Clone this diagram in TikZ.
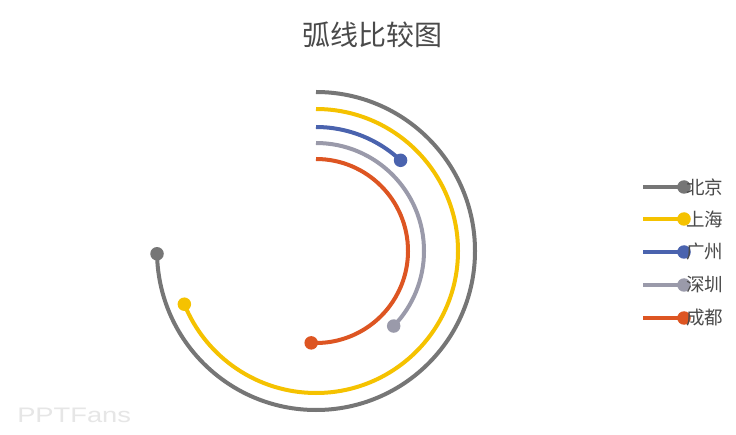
\documentclass[tikz,border=0pt]{standalone}
\usepackage{fontspec}
\usepackage{xcolor}
\usepackage{tikz}
\usetikzlibrary{positioning, calc}
\newfontfamily\cjk{Noto Sans CJK SC}
\setsansfont{Liberation Sans}
\definecolor{bjGray}{HTML}{767676}
\definecolor{shYellow}{HTML}{F5C200}
\definecolor{gzBlue}{HTML}{4A63AE}
\definecolor{szGray}{HTML}{9A9AAA}
\definecolor{cdOrange}{HTML}{DD5522}
\definecolor{titleGray}{HTML}{4A4A4A}
\definecolor{markGray}{HTML}{E6E6E6}
\begin{document}
\begin{tikzpicture}[
        x=1pt, y=1pt,
        arcline/.style={line width=4pt},
        enddot/.style={circle, inner sep=0pt, minimum size=13.5pt},
        legendtext/.style={anchor=west, inner sep=0pt, text=titleGray, font=\cjk\fontsize{18.5}{18.5}\selectfont},
        legendline/.style={line width=4pt}
    ]
        \useasboundingbox[fill=white] (0,0) rectangle (736,434);

        % ===== 标题 =====
        \node (title) [text=titleGray, font=\cjk\fontsize{28}{28}\selectfont] at (372,399) {弧线比较图};

        % ===== 弧线 =====
        \coordinate (center) at (316,183);
        \draw [arcline, bjGray] ($(center)+(90:159)$) arc[start angle=90, end angle=-179, radius=159] coordinate (bjEnd);
        \draw [arcline, shYellow] ($(center)+(90:142)$) arc[start angle=90, end angle=-158, radius=142] coordinate (shEnd);
        \draw [arcline, gzBlue] ($(center)+(90:124)$) arc[start angle=90, end angle=47, radius=124] coordinate (gzEnd);
        \draw [arcline, szGray] ($(center)+(90:108)$) arc[start angle=90, end angle=-44, radius=108] coordinate (szEnd);
        \draw [arcline, cdOrange] ($(center)+(90:92)$) arc[start angle=90, end angle=-93, radius=92] coordinate (cdEnd);

        \node (bjDot) [enddot, fill=bjGray] at (bjEnd) {};
        \node (shDot) [enddot, fill=shYellow] at (shEnd) {};
        \node (gzDot) [enddot, fill=gzBlue] at (gzEnd) {};
        \node (szDot) [enddot, fill=szGray] at (szEnd) {};
        \node (cdDot) [enddot, fill=cdOrange] at (cdEnd) {};

        % ===== 图例 =====
        \node (bjKey) [enddot, fill=bjGray] at (684,247) {};
        \node (shKey) [enddot, fill=shYellow] at (684,215) {};
        \node (gzKey) [enddot, fill=gzBlue] at (684,182) {};
        \node (szKey) [enddot, fill=szGray] at (684,149) {};
        \node (cdKey) [enddot, fill=cdOrange] at (684,116) {};

        \coordinate (bjStart) at ($(bjKey.center)+(-41,0)$);
        \coordinate (shStart) at ($(shKey.center)+(-41,0)$);
        \coordinate (gzStart) at ($(gzKey.center)+(-41,0)$);
        \coordinate (szStart) at ($(szKey.center)+(-41,0)$);
        \coordinate (cdStart) at ($(cdKey.center)+(-41,0)$);

        \draw [legendline, bjGray] (bjStart) -- (bjKey.center);
        \draw [legendline, shYellow] (shStart) -- (shKey.center);
        \draw [legendline, gzBlue] (gzStart) -- (gzKey.center);
        \draw [legendline, szGray] (szStart) -- (szKey.center);
        \draw [legendline, cdOrange] (cdStart) -- (cdKey.center);

        \node (bjText) [legendtext] at ($(bjKey.center)+(2,0)$) {北京};
        \node (shText) [legendtext] at ($(shKey.center)+(2,0)$) {上海};
        \node (gzText) [legendtext] at ($(gzKey.center)+(2,0)$) {广州};
        \node (szText) [legendtext] at ($(szKey.center)+(2,0)$) {深圳};
        \node (cdText) [legendtext] at ($(cdKey.center)+(2,0)$) {成都};

        % ===== 水印 =====
        \node (mark) [anchor=west, inner sep=0pt, text=markGray, xscale=1.3, font=\sffamily\fontsize{21}{21}\selectfont] at (17,19) {PPTFans};

    \end{tikzpicture}
\end{document}
